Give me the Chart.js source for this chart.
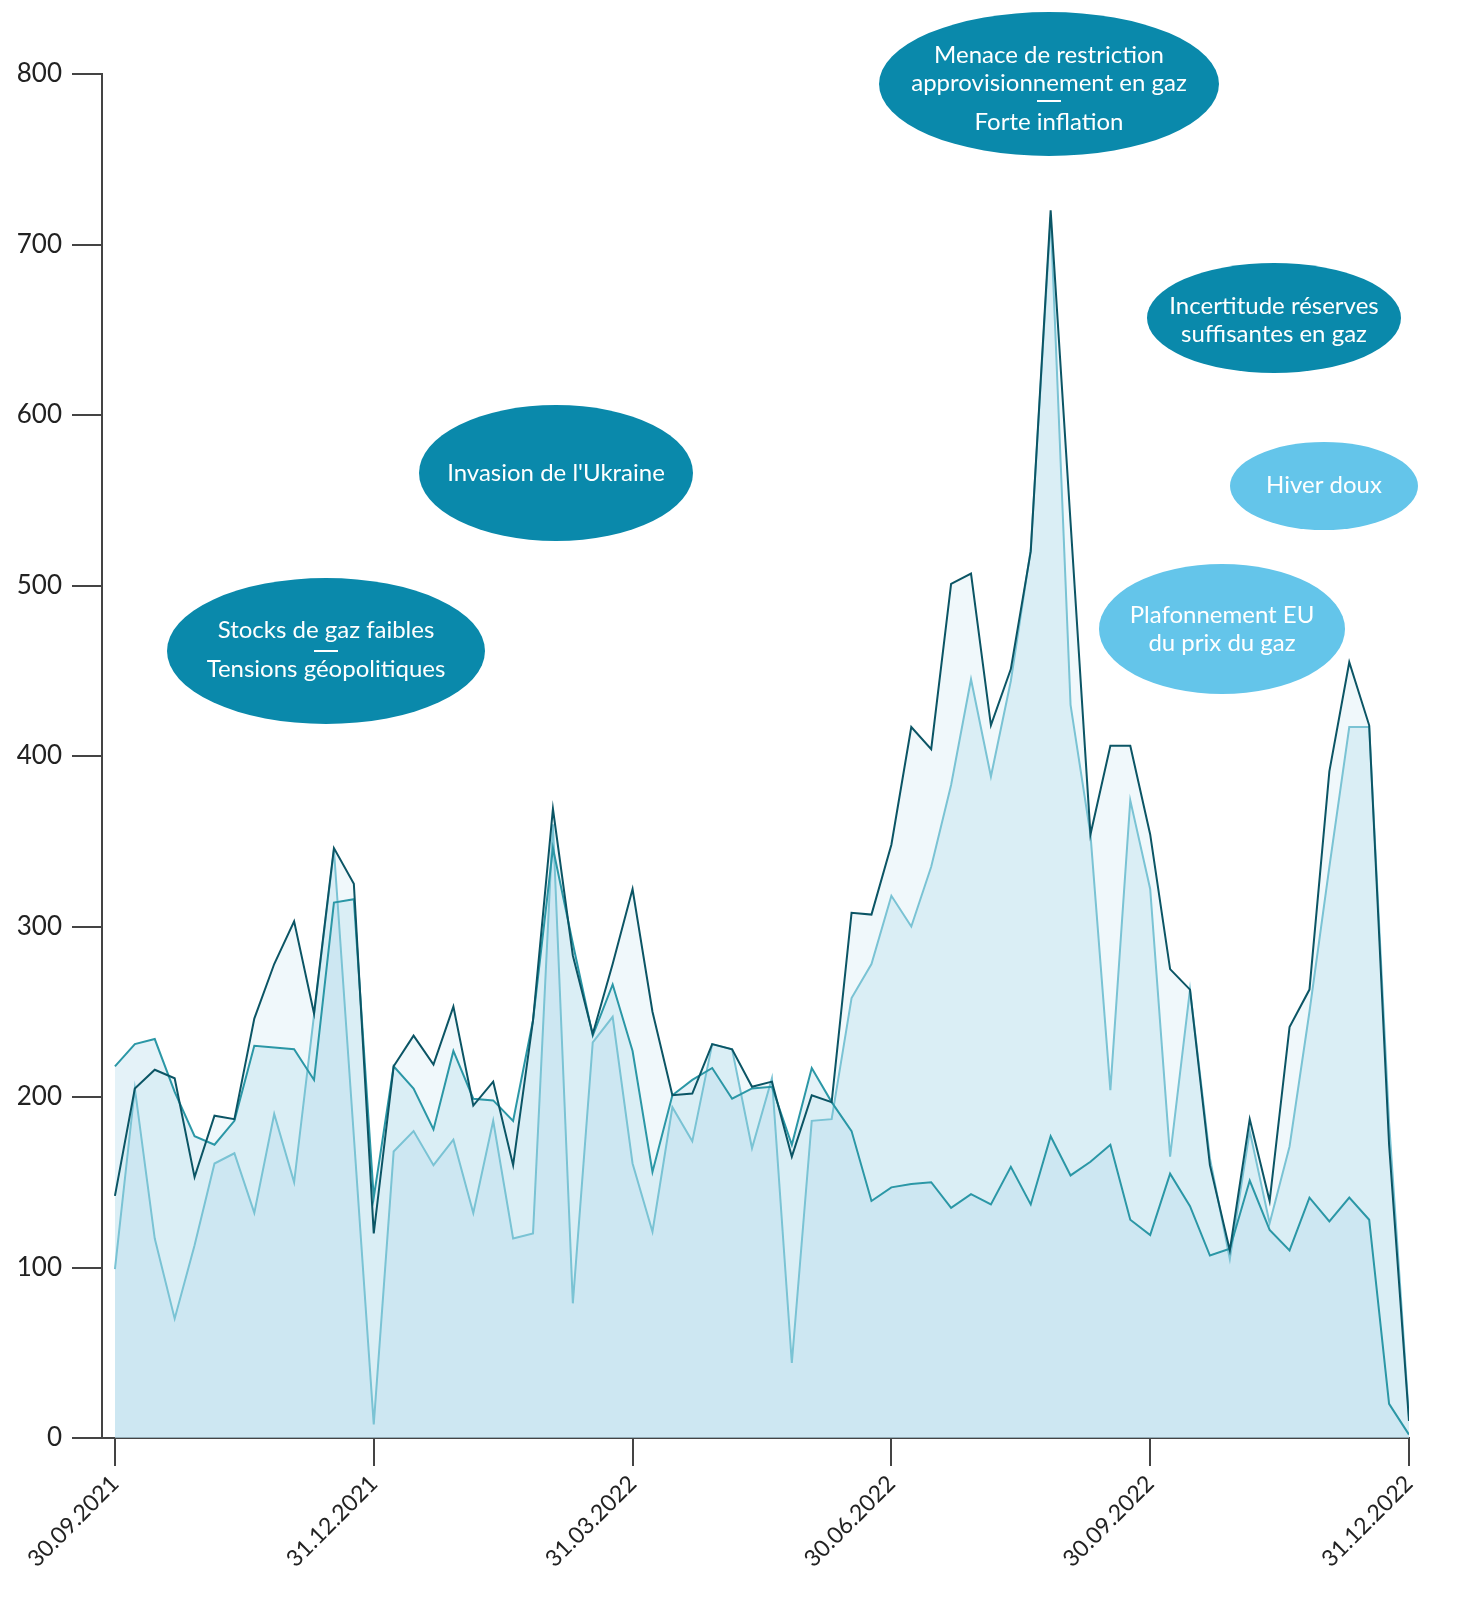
<!DOCTYPE html>
<html lang="fr">
<head>
    <meta charset="UTF-8">
    <title>Prix du gaz</title>
    <script src="https://cdn.jsdelivr.net/npm/chart.js"></script>
    <style>
        body {
            margin: 0;
            background: #ffffff;
        }
        canvas {
            display: block;
        }
    </style>
</head>
<body>
    <canvas id="gasChart" width="1459" height="1602"></canvas>

    <script>
        // weekly points, 30.09.2021 -> 31.12.2022
        const seriesDark = [142, 205, 216, 211, 153, 189, 187, 246, 278, 303, 249, 346, 325, 120, 218, 236, 219, 253, 195, 209,
            160, 245, 369, 283, 237, 278, 322, 250, 201, 202, 231, 228, 206, 209, 165, 201, 197, 308, 307, 348,
            417, 404, 501, 507, 418, 451, 520, 720, 537, 354, 406, 406, 354, 275, 263, 160, 110, 187, 139, 241,
            263, 391, 455, 418, 172, 10];
        const seriesTeal = [218, 231, 234, 203, 177, 172, 186, 230, 229, 228, 210, 314, 316, 141, 218, 205, 181, 227, 199, 198,
            186, 245, 346, 290, 236, 266, 227, 156, 201, 210, 217, 199, 205, 206, 172, 217, 197, 180, 139, 147,
            149, 150, 135, 143, 137, 159, 137, 177, 154, 162, 172, 128, 119, 155, 136, 107, 111, 151, 122, 110,
            141, 127, 141, 128, 20, 2];
        const seriesLight = [99, 205, 117, 70, 113, 161, 167, 132, 190, 150, 248, 345, 177, 8, 168, 180, 160, 175, 132, 186,
            117, 120, 360, 79, 232, 247, 161, 121, 194, 174, 231, 228, 170, 211, 44, 186, 187, 258, 278, 318,
            300, 335, 383, 445, 388, 444, 521, 716, 430, 354, 204, 374, 322, 165, 263, 164, 105, 180, 126, 171,
            250, 335, 417, 417, 185, 12];

        const tickIndex = [0, 13, 26, 39, 52, 65];
        const tickLabels = ['30.09.2021', '31.12.2021', '31.03.2022', '30.06.2022', '30.09.2022', '31.12.2022'];

        const bubbleTexts = [
            ['Stocks de gaz faibles', 'Tensions géopolitiques'],
            ["Invasion de l'Ukraine"],
            ['Menace de restriction', 'approvisionnement en gaz', 'Forte inflation'],
            ['Incertitude réserves', 'suffisantes en gaz'],
            ['Hiver doux'],
            ['Plafonnement EU', 'du prix du gaz']
        ];

        // ellipse geometry in canvas pixels
        const bubbleShapes = [
            { cx: 326, cy: 651, rx: 159, ry: 73, color: '#0a89ab', lineY: [630, 669], dashY: 651 },
            { cx: 556, cy: 473, rx: 137, ry: 68, color: '#0a89ab', lineY: [473] },
            { cx: 1049, cy: 84, rx: 170, ry: 72, color: '#0a89ab', lineY: [55, 83, 122], dashY: 101 },
            { cx: 1274, cy: 318, rx: 127, ry: 55, color: '#0a89ab', lineY: [306, 334] },
            { cx: 1324, cy: 486, rx: 94, ry: 44, color: '#64c5ea', lineY: [485] },
            { cx: 1222, cy: 629, rx: 123, ry: 65, color: '#64c5ea', lineY: [615, 643] }
        ];

        const toPoints = arr => arr.map((v, i) => ({ x: i, y: v }));

        const bubblePlugin = {
            id: 'bubbles',
            afterDraw(chart) {
                const ctx = chart.ctx;
                ctx.save();
                bubbleShapes.forEach((b, k) => {
                    ctx.fillStyle = b.color;
                    ctx.beginPath();
                    ctx.ellipse(b.cx, b.cy, b.rx, b.ry, 0, 0, Math.PI * 2);
                    ctx.fill();

                    ctx.fillStyle = '#ffffff';
                    ctx.font = '24px Lato';
                    ctx.textAlign = 'center';
                    ctx.textBaseline = 'middle';
                    bubbleTexts[k].forEach((t, j) => ctx.fillText(t, b.cx, b.lineY[j]));

                    if (b.dashY) {
                        ctx.strokeStyle = '#ffffff';
                        ctx.lineWidth = 2;
                        ctx.beginPath();
                        ctx.moveTo(b.cx - 12, b.dashY);
                        ctx.lineTo(b.cx + 12, b.dashY);
                        ctx.stroke();
                    }
                });
                ctx.restore();
            }
        };

        const ctx = document.getElementById('gasChart').getContext('2d');

        new Chart(ctx, {
            type: 'line',
            data: {
                datasets: [
                    {
                        data: toPoints(seriesDark),
                        borderColor: '#0b5565',
                        backgroundColor: 'rgba(180, 220, 235, 0.2)',
                        borderWidth: 2,
                        fill: 'origin'
                    },
                    {
                        data: toPoints(seriesTeal),
                        borderColor: '#2b97a6',
                        backgroundColor: 'rgba(180, 220, 235, 0.364)',
                        borderWidth: 2,
                        fill: 'origin'
                    },
                    {
                        data: toPoints(seriesLight),
                        borderColor: '#7ac3d4',
                        backgroundColor: 'rgba(180, 220, 235, 0.364)',
                        borderWidth: 2,
                        fill: 'origin'
                    }
                ]
            },
            options: {
                responsive: false,
                animation: false,
                devicePixelRatio: 1,
                layout: {
                    padding: { top: 74, right: 50, left: 0, bottom: 0 }
                },
                elements: {
                    point: { radius: 0 },
                    line: { tension: 0 }
                },
                plugins: {
                    legend: { display: false },
                    tooltip: { enabled: false },
                    filler: { drawTime: 'beforeDatasetsDraw' }
                },
                scales: {
                    x: {
                        type: 'linear',
                        min: -0.65,
                        max: 65,
                        afterBuildTicks: scale => {
                            scale.ticks = tickIndex.map(v => ({ value: v }));
                        },
                        afterFit: scale => {
                            scale.height = 164;
                        },
                        grid: {
                            drawOnChartArea: false,
                            tickLength: 28,
                            color: '#444',
                            lineWidth: 2
                        },
                        border: { color: '#444', width: 2 },
                        ticks: {
                            autoSkip: false,
                            minRotation: 45,
                            maxRotation: 45,
                            padding: 4,
                            color: '#222',
                            font: { family: 'Lato', size: 23 },
                            callback: (v, i) => tickLabels[i]
                        }
                    },
                    y: {
                        min: 0,
                        max: 800,
                        afterFit: scale => {
                            scale.width = 102;
                        },
                        grid: {
                            drawOnChartArea: false,
                            tickLength: 30,
                            color: '#444',
                            lineWidth: 2
                        },
                        border: { color: '#444', width: 2 },
                        ticks: {
                            stepSize: 100,
                            padding: 10,
                            color: '#222',
                            font: { family: 'Lato', size: 26 }
                        }
                    }
                }
            },
            plugins: [bubblePlugin]
        });
    </script>
</body>
</html>
